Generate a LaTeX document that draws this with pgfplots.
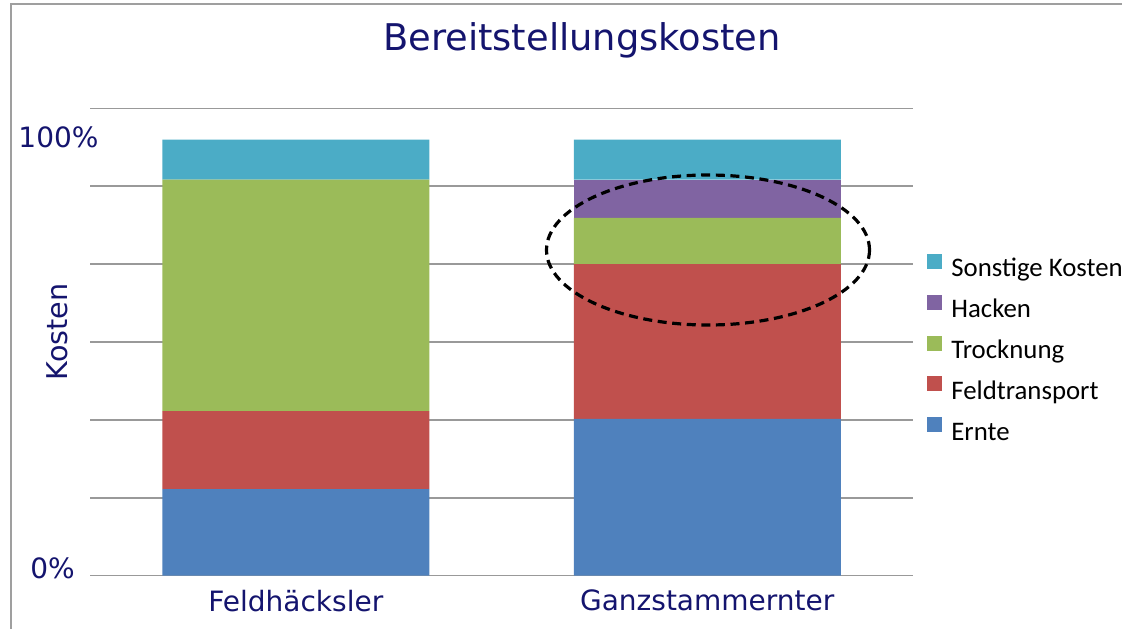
\documentclass[border=0pt]{standalone}
\usepackage{fontspec}
\setmainfont{DejaVu Sans}
\newfontfamily\legfont{Carlito}
\usepackage{pgfplots}
\pgfplotsset{compat=1.18}
\definecolor{navy}{RGB}{20,20,110}
\definecolor{cErnte}{HTML}{4F81BD}
\definecolor{cFeld}{HTML}{C0504D}
\definecolor{cTrock}{HTML}{9BBB59}
\definecolor{cHack}{HTML}{8064A2}
\definecolor{cSonst}{HTML}{4BACC6}
\begin{document}
\begin{tikzpicture}
\useasboundingbox (-45pt,-26.5pt) rectangle (516pt,287.75pt);
\begin{axis}[
  scale only axis, width=411.5pt, height=233.5pt,
  at={(0,0)}, anchor=south west,
  ybar stacked, bar width=133.5pt,
  xmin=-0.5, xmax=1.5, ymin=0, ymax=107.11,
  xtick={0,1}, xticklabels={Feldhäcksler,Ganzstammernter},
  ytick={0,17.852,35.704,53.556,71.408,89.26,107.11}, yticklabels={},
  ymajorgrids, grid style={draw=gray!80, line width=0.9pt},
  axis line style={draw=none}, major tick length=0pt,
  xticklabel style={font=\fontsize{14}{16}\selectfont, text=navy, inner sep=0pt, anchor=north, yshift=-7pt},
  legend image code/.code={\fill[#1] (0pt,1pt) rectangle (7.5pt,8.5pt);},
  reverse legend,
  legend style={at={(1.017,0.6895)}, anchor=north west, draw=none, fill=none,
    inner sep=0pt, row sep=5.9pt,
    nodes={inner sep=0pt, text height=9pt, text depth=3pt, font=\legfont\fontsize{13.4}{15}\selectfont},
    /tikz/every odd column/.append style={column sep=4.5pt}},
  legend cell align=left,
]
\addplot[fill=cErnte, draw=none] coordinates {(0,19.8) (1,35.9)};
\addplot[fill=cFeld, draw=none] coordinates {(0,17.9) (1,35.5)};
\addplot[fill=cTrock, draw=none] coordinates {(0,53.1) (1,10.6)};
\addplot[fill=cHack, draw=none] coordinates {(0,0) (1,8.8)};
\addplot[fill=cSonst, draw=none] coordinates {(0,9.2) (1,9.2)};
\legend{Ernte,Feldtransport,Trocknung,Hacken,Sonstige Kosten}
\end{axis}
\draw[black, line width=1.6pt, dash pattern=on 4.5pt off 2.8pt] (309pt,162.75pt) ellipse [x radius=80.75pt, y radius=37.5pt];
\node[text=navy, font=\fontsize{18.4}{20}\selectfont] at (246pt,267.75pt) {Bereitstellungskosten};
\node[text=navy, font=\fontsize{14}{16}\selectfont] at (-15.75pt,219.25pt) {100\%};
\node[text=navy, font=\fontsize{14}{16}\selectfont] at (-18.75pt,3.75pt) {0\%};
\node[text=navy, font=\fontsize{14.3}{16}\selectfont, rotate=90] at (-16.25pt,121.75pt) {Kosten};
\draw[gray!75, line width=1pt] (-39.25pt,-30pt) -- (-39.25pt,285.75pt) -- (520pt,285.75pt);
\end{tikzpicture}
\end{document}
